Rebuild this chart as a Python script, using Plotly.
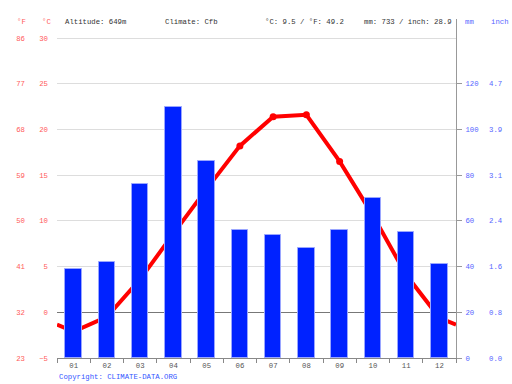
import plotly.graph_objects as go

months = ["01", "02", "03", "04", "05", "06", "07", "08", "09", "10", "11", "12"]
precip_mm = [39, 42, 76, 110, 86, 56, 54, 48, 56, 70, 55, 41]
temp_c = [-2.1, -0.5, 3.6, 8.6, 13.5, 18.2, 21.4, 21.6, 16.5, 10.6, 4.1, -0.6]

c_ticks = [-5, 0, 5, 10, 15, 20, 25, 30]
f_ticks = ["23", "32", "41", "50", "59", "68", "77", "86"]
mm_ticks = [0, 20, 40, 60, 80, 100, 120]
inch_ticks = ["0.0", "0.8", "1.6", "2.4", "3.1", "3.9", "4.7"]

header_alt = "Altitude: 649m"
header_clim = "Climate: Cfb"
header_temp = "°C: 9.5 / °F: 49.2"
header_prec = "mm: 733 / inch: 28.9"

W, H = 512, 384
X0, X1 = 57, 456        # plot left/right in px
YB, YT = 358, 19        # plot bottom/top in px
C_MIN = -5
PX_PER_C = (YB - 38) / 35.0
C_TOP = C_MIN + (YB - YT) / PX_PER_C
MM_TOP = (C_TOP - C_MIN) * 4

xs = list(range(1, 13))
wrap = (temp_c[0] + temp_c[-1]) / 2.0
line_x = [0.5] + xs + [12.5]
line_y = [wrap] + temp_c + [wrap]

FONT = "Liberation Mono"
FS = 7.3
RED = "#ff5a5a"
BLUE = "#5566ff"

fig = go.Figure()
fig.add_trace(go.Bar(x=xs, y=precip_mm, width=0.5, yaxis="y2",
                     marker=dict(color="#0022ff", line=dict(color="#9aa6ff", width=1))))
fig.add_trace(go.Scatter(x=line_x, y=line_y, mode="lines", yaxis="y",
                         line=dict(color="#ff0000", width=4), hoverinfo="skip"))
fig.add_trace(go.Scatter(x=xs, y=temp_c, mode="markers", yaxis="y",
                         marker=dict(color="#ff0000", size=7)))
# invisible carriers so the secondary (°F / inch) axes are drawn
fig.add_trace(go.Scatter(x=xs, y=temp_c, mode="markers", yaxis="y3",
                         marker=dict(opacity=0), hoverinfo="skip"))
fig.add_trace(go.Scatter(x=xs, y=precip_mm, mode="markers", yaxis="y4",
                         marker=dict(opacity=0), hoverinfo="skip"))

def px_x(p):
    return p / W

def px_y(p):
    return (YB - p) / (YB - YT)

fig.update_layout(
    width=W, height=H, showlegend=False, autosize=False,
    margin=dict(l=0, r=0, t=YT, b=H - YB, pad=0),
    plot_bgcolor="white", paper_bgcolor="white",
    font=dict(family=FONT, size=FS, color="#333333"),
    bargap=0,
    xaxis=dict(domain=[X0 / W, X1 / W], range=[0.5, 12.5],
               tickvals=xs, ticktext=months, showgrid=False, zeroline=False,
               showline=True, linecolor="#888888", linewidth=1,
               ticks="", tickfont=dict(color="#555555", size=FS),
               minor=dict(tick0=0.5, dtick=1, ticks="outside", ticklen=4,
                          tickcolor="#888888", showgrid=False)),
    yaxis=dict(range=[C_MIN, C_TOP], tickvals=c_ticks, showgrid=True,
               gridcolor="#dddddd", gridwidth=1, zeroline=True,
               zerolinecolor="#777777", zerolinewidth=1, showline=False,
               anchor="x", ticklabelstandoff=8, automargin=False,
               tickfont=dict(color=RED, size=FS)),
    yaxis3=dict(range=[C_MIN, C_TOP], tickvals=c_ticks, ticktext=f_ticks,
                overlaying="y", anchor="free", position=px_x(25),
                showgrid=False, zeroline=False, showline=False, automargin=False,
                ticklabelstandoff=0, tickfont=dict(color=RED, size=FS)),
    yaxis2=dict(range=[0, MM_TOP], tickvals=mm_ticks, overlaying="y", side="right",
                anchor="x", showgrid=False, zeroline=False, showline=True,
                linecolor="#999999", linewidth=1, ticks="outside", ticklen=5,
                tickcolor="#999999", ticklabelstandoff=2, automargin=False,
                tickfont=dict(color=BLUE, size=FS)),
    yaxis4=dict(range=[0, MM_TOP], tickvals=mm_ticks, ticktext=inch_ticks,
                overlaying="y", side="right", anchor="free", position=px_x(488),
                showgrid=False, zeroline=False, showline=False, automargin=False,
                ticklabelstandoff=0, tickfont=dict(color=BLUE, size=FS)),
)

hy = px_y(22.5)
def ann(x, text, color="#333333"):
    fig.add_annotation(x=px_x(x), y=hy, xref="paper", yref="paper", text=text,
                       showarrow=False, xanchor="left", yanchor="middle",
                       font=dict(family=FONT, size=FS, color=color))

ann(15, "°F", RED)
ann(40, "°C", RED)
ann(63, header_alt)
ann(163, header_clim)
ann(263, header_temp)
ann(362, header_prec)
ann(463, "mm", BLUE)
ann(489, "inch", BLUE)

fig.add_annotation(x=px_x(57), y=px_y(377), xref="paper", yref="paper",
                   text="Copyright: CLIMATE-DATA.ORG", showarrow=False,
                   xanchor="left", yanchor="middle",
                   font=dict(family=FONT, size=FS, color="#3355ff"))

fig.write_html("out.html", config={"displayModeBar": False},
               post_script="document.body.style.margin='0';document.body.style.padding='0';")
